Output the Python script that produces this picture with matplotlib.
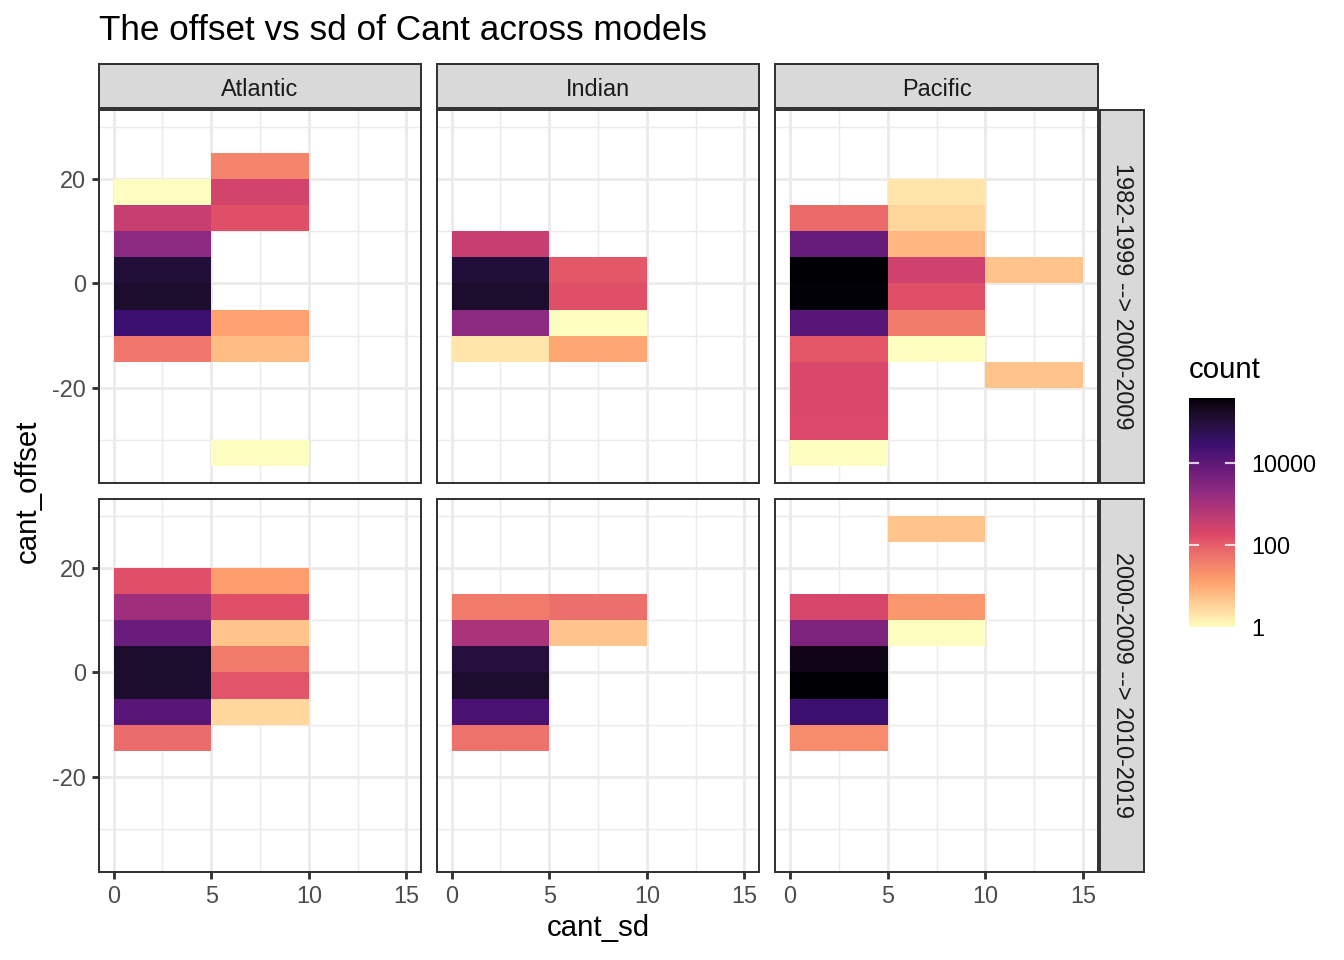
import numpy as np
import matplotlib
matplotlib.use("Agg")
import matplotlib.pyplot as plt
from matplotlib.colors import LogNorm, ListedColormap, to_rgb

plt.rcParams['font.family'] = ['Liberation Sans', 'DejaVu Sans']
plt.rcParams['axes.unicode_minus'] = False

# bins of the 2d histogram (cant_sd width 5, cant_offset width 5)
sd_edges = [0, 5, 10, 15]
offset_edges = list(range(-35, 31, 5))

basins = ['Atlantic', 'Indian', 'Pacific']
periods = ['1982-1999 --> 2000-2009', '2000-2009 --> 2010-2019']

# (cant_sd bin start, cant_offset bin start, count)
atlantic_1 = [(0, 15, 1), (0, 10, 380), (0, 5, 2300), (0, 0, 110000), (0, -5, 160000),
              (0, -10, 30000), (0, -15, 48),
              (5, 20, 32), (5, 15, 250), (5, 10, 150), (5, -10, 13), (5, -15, 6), (5, -35, 1)]
indian_1 = [(0, 5, 380), (0, 0, 110000), (0, -5, 160000), (0, -10, 2300), (0, -15, 2),
            (5, 0, 120), (5, -5, 150), (5, -10, 1), (5, -15, 11)]
pacific_1 = [(0, 10, 70), (0, 5, 8000), (0, 0, 400000), (0, -5, 380000), (0, -10, 12500),
             (0, -15, 120), (0, -20, 200), (0, -25, 200), (0, -30, 180), (0, -35, 1),
             (5, 15, 2), (5, 10, 3), (5, 5, 7), (5, 0, 290), (5, -5, 150), (5, -10, 42),
             (5, -15, 1), (10, 0, 5), (10, -20, 5)]
atlantic_2 = [(0, 15, 150), (0, 10, 1400), (0, 5, 7300), (0, 0, 160000), (0, -5, 160000),
              (0, -10, 12500), (0, -15, 63),
              (5, 15, 15), (5, 10, 150), (5, 5, 5), (5, 0, 42), (5, -5, 130), (5, -10, 3)]
indian_2 = [(0, 10, 42), (0, 5, 930), (0, 0, 100000), (0, -5, 160000), (0, -10, 20000),
            (0, -15, 55), (5, 10, 60), (5, 5, 5)]
pacific_2 = [(0, 10, 220), (0, 5, 3800), (0, 0, 270000), (0, -5, 400000), (0, -10, 32000),
             (0, -15, 25), (5, 25, 5), (5, 10, 17), (5, 5, 1)]

panels = [[atlantic_1, indian_1, pacific_1], [atlantic_2, indian_2, pacific_2]]

# ggplot style magma: 6 anchor colours, interpolated in Lab
magma6 = ['#FCFDBF', '#FE9F6D', '#DE4968', '#8C2981', '#3B0F70', '#000004']


def srgb_to_lab(rgb):
    c = np.asarray(rgb, float)
    lin = np.where(c <= 0.04045, c / 12.92, ((c + 0.055) / 1.055) ** 2.4)
    M = np.array([[0.4124, 0.3576, 0.1805], [0.2126, 0.7152, 0.0722], [0.0193, 0.1192, 0.9505]])
    xyz = lin @ M.T / np.array([0.95047, 1.0, 1.08883])
    f = np.where(xyz > (6 / 29) ** 3, np.cbrt(xyz), xyz / (3 * (6 / 29) ** 2) + 4 / 29)
    return np.stack([116 * f[..., 1] - 16, 500 * (f[..., 0] - f[..., 1]),
                     200 * (f[..., 1] - f[..., 2])], axis=-1)


def lab_to_srgb(lab):
    L, a, b = lab[..., 0], lab[..., 1], lab[..., 2]
    fy = (L + 16) / 116
    f = np.stack([fy + a / 500, fy, fy - b / 200], axis=-1)
    xyz = np.where(f > 6 / 29, f ** 3, 3 * (6 / 29) ** 2 * (f - 4 / 29))
    xyz = xyz * np.array([0.95047, 1.0, 1.08883])
    Minv = np.array([[3.2406, -1.5372, -0.4986], [-0.9689, 1.8758, 0.0415], [0.0557, -0.2040, 1.0570]])
    lin = np.clip(xyz @ Minv.T, 0, 1)
    return np.where(lin <= 0.0031308, 12.92 * lin, 1.055 * lin ** (1 / 2.4) - 0.055).clip(0, 1)


anchors = srgb_to_lab(np.array([to_rgb(c) for c in magma6]))
pos = np.linspace(0, 1, len(magma6))
t = np.linspace(0, 1, 256)
lab = np.stack([np.interp(t, pos, anchors[:, k]) for k in range(3)], axis=-1)
cmap = ListedColormap(lab_to_srgb(lab))

all_counts = [c for row in panels for p in row for (_, _, c) in p]
norm = LogNorm(vmin=min(all_counts), vmax=max(all_counts))

W, H = 1344, 960
fig = plt.figure(figsize=(7, 5), dpi=192)


def rect(x0, y0, x1, y1):
    return [x0 / W, 1 - y1 / H, (x1 - x0) / W, (y1 - y0) / H]


col_px = [(99, 421), (437, 759), (775, 1098)]
row_px = [(110, 483), (499, 872)]
dark = '#333333'
lw = 1.07
blw = 0.75

for i, (y0, y1) in enumerate(row_px):
    for j, (x0, x1) in enumerate(col_px):
        ax = fig.add_axes(rect(x0, y0, x1, y1))
        grid = np.full((len(offset_edges) - 1, len(sd_edges) - 1), np.nan)
        for sd, off, n in panels[i][j]:
            grid[offset_edges.index(off), sd_edges.index(sd)] = n
        ax.set_axisbelow(True)
        ax.pcolormesh(sd_edges, offset_edges, grid, cmap=cmap, norm=norm, zorder=2)
        ax.set_xlim(-0.75, 15.75)
        ax.set_ylim(-38.25, 33.25)
        ax.set_xticks([0, 5, 10, 15])
        ax.set_yticks([-20, 0, 20])
        ax.set_xticks([2.5, 7.5, 12.5], minor=True)
        ax.set_yticks([-30, -10, 10, 30], minor=True)
        ax.grid(which='major', color='#EBEBEB', linewidth=lw, zorder=0)
        ax.grid(which='minor', color='#EBEBEB', linewidth=lw / 2, zorder=0)
        for s in ax.spines.values():
            s.set_color(dark)
            s.set_linewidth(blw)
            s.set_zorder(3)
        ax.tick_params(which='minor', length=0)
        ax.tick_params(which='major', length=2.75, width=lw, color=dark,
                       labelcolor='#4D4D4D', labelsize=8.8, pad=2.2)
        if j != 0:
            ax.tick_params(axis='y', which='major', length=0, labelleft=False)
        if i != len(row_px) - 1:
            ax.tick_params(axis='x', which='major', length=0, labelbottom=False)

        if i == 0:
            sax = fig.add_axes(rect(x0, 64, x1, 108))
            sax.set_facecolor('#D9D9D9')
            sax.set_xticks([])
            sax.set_yticks([])
            for s in sax.spines.values():
                s.set_color(dark)
                s.set_linewidth(blw)
            sax.text(0.5, 0.48, basins[j], ha='center', va='center_baseline', fontsize=8.8,
                     color='#1A1A1A', transform=sax.transAxes)
    sax = fig.add_axes(rect(1100, y0, 1144, y1))
    sax.set_facecolor('#D9D9D9')
    sax.set_xticks([])
    sax.set_yticks([])
    for s in sax.spines.values():
        s.set_color(dark)
        s.set_linewidth(blw)
    sax.text(0.5, 0.5, periods[i], ha='center', va='center', fontsize=8.8,
             color='#1A1A1A', rotation=-90, transform=sax.transAxes)

fig.text(99 / W, 1 - 31 / H, 'The offset vs sd of Cant across models', fontsize=13.2,
         ha='left', va='center')
fig.text(598 / W, 1 - 928 / H, 'cant_sd', fontsize=11, ha='center', va='center')
fig.text(28 / W, 1 - 491 / H, 'cant_offset', fontsize=11, ha='center', va='center',
         rotation=90)

# colour legend
cax = fig.add_axes(rect(1189, 398, 1235, 627))
sm = plt.cm.ScalarMappable(norm=norm, cmap=cmap)
cb = fig.colorbar(sm, cax=cax)
cb.outline.set_visible(False)
cb.set_ticks([1, 100, 10000])
cb.set_ticklabels(['1', '100', '10000'])
cax.minorticks_off()
cax.tick_params(length=0, labelsize=8.8, pad=6)
for v in [100, 10000]:
    cax.axhline(v, xmin=0, xmax=0.2, color='white', linewidth=0.8, alpha=0.8)
    cax.axhline(v, xmin=0.8, xmax=1, color='white', linewidth=0.8, alpha=0.8)
fig.text(1189 / W, 1 - 370 / H, 'count', fontsize=11, ha='left', va='center')

fig.savefig('out.png', dpi=192)
